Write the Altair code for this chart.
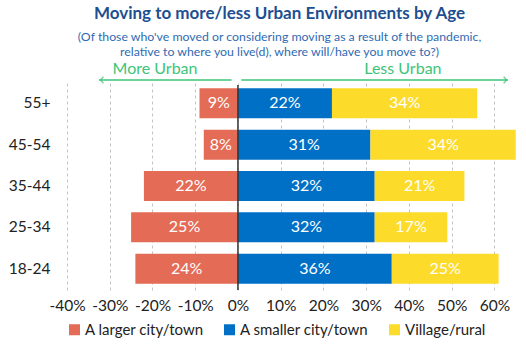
import altair as alt
import pandas as pd

ages = ["55+", "45-54", "35-44", "25-34", "18-24"]
larger = [9, 8, 22, 25, 24]
smaller = [22, 31, 32, 32, 36]
village = [34, 34, 21, 17, 25]
series = ["A larger city/town", "A smaller city/town", "Village/rural"]
colors = ["#e46b55", "#0070c6", "#fddb2a"]
tick_vals = [-40, -30, -20, -10, 0, 10, 20, 30, 40, 50, 60]

FONT = "Lato"

rows = []
for a, l, s, v in zip(ages, larger, smaller, village):
    rows.append({"age": a, "series": series[0], "x": -l, "x2": 0, "val": l})
    rows.append({"age": a, "series": series[1], "x": 0, "x2": s, "val": s})
    rows.append({"age": a, "series": series[2], "x": s, "x2": s + v, "val": v})
df = pd.DataFrame(rows)
df["mid"] = (df["x"] + df["x2"]) / 2
df["label"] = df["val"].astype(str) + "%"

W, H = 453, 208
xscale = alt.Scale(domain=[-40, 66], nice=False, zero=False)
yscale = alt.Scale(domain=ages, paddingInner=0.27, paddingOuter=0.15)

base = alt.Chart(df)

bars = base.mark_bar(size=30).encode(
    x=alt.X("x:Q", scale=xscale,
            axis=alt.Axis(values=tick_vals, labelExpr="datum.value + '%'",
                          title=None, domain=False, ticks=False, grid=True,
                          gridDash=[3, 3], gridColor="#c4c4c4", gridWidth=1,
                          labelFontSize=15.5, labelColor="#222", labelFont=FONT,
                          labelPadding=8, labelOverlap=False, labelFlush=False)),
    x2="x2:Q",
    y=alt.Y("age:N", scale=yscale, sort=ages,
            axis=alt.Axis(title=None, domain=False, ticks=False, labelFontSize=15.5,
                          labelColor="#222", labelFont=FONT, labelPadding=17)),
    color=alt.Color("series:N", scale=alt.Scale(domain=series, range=colors),
                    legend=alt.Legend(title=None, orient="bottom", direction="horizontal",
                                      symbolType="square", symbolSize=121,
                                      symbolStrokeWidth=0, labelOffset=3,
                                      labelFontSize=15, labelFont=FONT, labelColor="#222",
                                      columnPadding=18, offset=8,
                                      labelLimit=300)),
)

labels = base.mark_text(color="white", fontSize=16, font=FONT).encode(
    x=alt.X("mid:Q", scale=xscale),
    y=alt.Y("age:N", scale=yscale, sort=ages),
    text="label:N",
)

zero = alt.Chart(pd.DataFrame({"z": [0]})).mark_rule(color="#333", strokeWidth=1.5).encode(
    x=alt.X("z:Q", scale=xscale), y=alt.value(3), y2=alt.value(H)
)

green = "#3dc47a"
arr = pd.DataFrame({"a": [-32.5, 0.8], "b": [-1.5, 63.2]})
arrows = alt.Chart(arr).mark_rule(color=green, strokeWidth=1.5).encode(
    x=alt.X("a:Q", scale=xscale), x2="b:Q", y=alt.value(-2)
)
heads = alt.Chart(pd.DataFrame({"p": [-32.2, 62.9], "s": ["M1,-1L0,0L1,1", "M-1,-1L0,0L-1,1"]})).mark_point(
    filled=False, color=green, strokeWidth=1.5, size=40
).encode(
    x=alt.X("p:Q", scale=xscale), y=alt.value(-2),
    shape=alt.Shape("s:N", scale=None)
)
arrow_text = alt.Chart(pd.DataFrame({"t": ["More Urban", "Less Urban"], "p": [-19.4, 38.6]})).mark_text(
    color=green, fontSize=16, font=FONT, baseline="bottom"
).encode(x=alt.X("p:Q", scale=xscale), y=alt.value(-5), text="t:N")

chart = alt.layer(bars, labels, zero, arrows, heads, arrow_text).properties(
    width=W, height=H,
    title=alt.TitleParams(
        text="Moving to more/less Urban Environments by Age",
        subtitle=["(Of those who've moved or considering moving as a result of the pandemic,",
                  "relative to where you live(d), where will/have you move to?)"],
        font=FONT, fontSize=17, fontWeight="bold", color="#1d4f91",
        subtitleFont=FONT, subtitleFontSize=12.3, subtitleColor="#2f6bb3",
        anchor="middle", dx=-14, offset=2, subtitlePadding=8, subtitleLineHeight=14.5,
    ),
    padding={"left": 67, "top": 82, "right": 6, "bottom": 61},
    autosize="none",
).configure_view(stroke=None)

chart.save("out.html", embed_options={"renderer": "svg", "actions": False})
